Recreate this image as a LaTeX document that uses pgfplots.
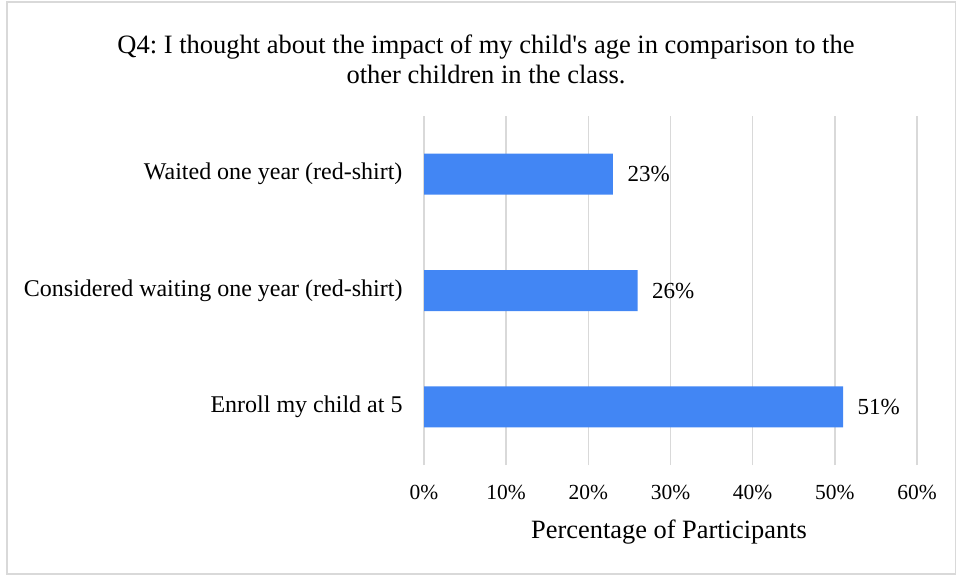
\documentclass[border=0pt]{standalone}
\usepackage{fontspec}
\setmainfont{Liberation Serif}
\usepackage{pgfplots}
\pgfplotsset{compat=1.18}
\definecolor{barblue}{RGB}{66,134,244}
\definecolor{gridgray}{RGB}{217,217,217}
\begin{document}
\frenchspacing
\begin{tikzpicture}
\path[use as bounding box] (0bp,0bp) rectangle (957bp,-575bp);
\draw[gridgray, line width=1.5bp] (7bp,-2bp) rectangle (955.5bp,-574bp);
\begin{axis}[
 at={(424bp,-465bp)}, anchor=south west,
 scale only axis, width=493bp, height=349bp,
 xbar, bar width=41bp,
 xmin=0, xmax=60, ymin=-0.5, ymax=2.5,
 ytick={0,1,2},
 yticklabels={Enroll my child at 5, Considered waiting one year (red-shirt), Waited one year (red-shirt)},
 xtick={0,10,20,30,40,50,60},
 xticklabels={0\%,10\%,20\%,30\%,40\%,50\%,60\%},
 axis line style={draw=none},
 major tick length=0pt,
 xmajorgrids, grid style={gridgray, line width=1.5bp},
 xticklabel style={font=\fontsize{21.5bp}{25bp}\selectfont, yshift=-17bp},
 yticklabel style={font=\fontsize{24bp}{28bp}\selectfont, xshift=-18bp},
 /pgf/number format/assume math mode=true,
 nodes near coords={\pgfmathprintnumber{\pgfplotspointmeta}\%},
 nodes near coords style={font=\fontsize{23bp}{27bp}\selectfont, anchor=west, xshift=11bp},
 xlabel={Percentage of Participants},
 xlabel style={font=\fontsize{26.4bp}{30bp}\selectfont, at={(axis description cs:0.497,-0.193)}, anchor=center},
]
\addplot[fill=barblue, draw=none] coordinates {(51,0) (26,1) (23,2)};
\end{axis}
\node[align=center, font=\fontsize{26.5bp}{30bp}\selectfont] at (486bp,-59bp) {Q4: I thought about the impact of my child\textquotesingle s age in comparison to the\\other children in the class.};
\end{tikzpicture}
\end{document}
